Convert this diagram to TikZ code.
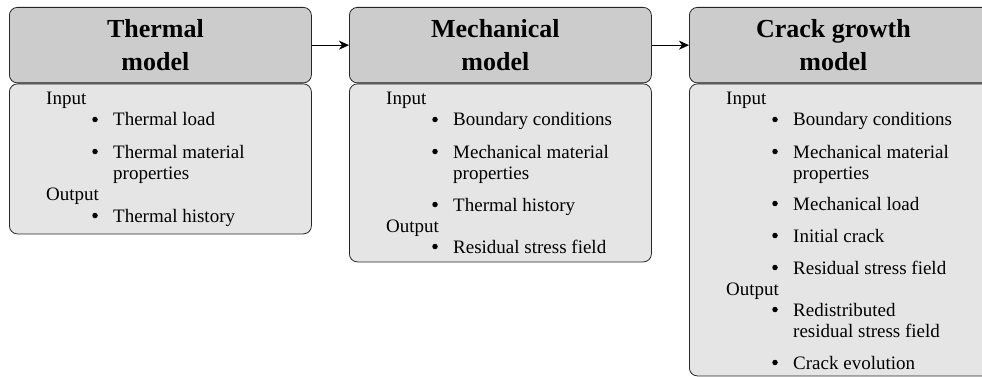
\documentclass[tikz,border=0pt]{standalone}
\usepackage{fontspec}
\setmainfont{Liberation Serif}
\usetikzlibrary{arrows.meta}
\newcommand\plaintxt[4]{\node[lbl] (#1) at (#2+37,#3) {#4};}
\newcommand\bulitem[4]{\node[bul] (#1b) at (#2+86,#3-6.5) {}; \node[lbl] (#1) at (#2+104,#3) {#4};}
\newcommand\contline[4]{\node[lbl] (#1) at (#2+104,#3) {#4};}
\begin{document}
\begin{tikzpicture}[x=1pt,y=-1pt,
  head/.style={draw=black!85, fill=black!20, rounded corners=8pt, line width=0.8pt,
    minimum width=302pt, minimum height=75.5pt, inner sep=0pt, anchor=north west},
  bodybox/.style={draw=black!85, fill=black!10, rounded corners=8pt, line width=0.8pt,
    minimum width=302pt, inner sep=0pt, anchor=north west},
  ttl/.style={font=\fontsize{26}{33}\selectfont\bfseries, align=center, inner sep=0pt},
  lbl/.style={font=\fontsize{19}{21}\selectfont, anchor=base west, inner sep=0pt},
  bul/.style={circle, fill=black, inner sep=0pt, minimum size=5.5pt},
  conn/.style={-{Stealth[length=10pt,width=9pt,inset=3pt]}, line width=1.2pt}]
\clip (0,0) rectangle (982,377);
% boxes
\node[head] (h1) at (9,7) {};
\node[bodybox, minimum height=150pt] (b1) at (9,83.5) {};
\node[head] (h2) at (349,7) {};
\node[bodybox, minimum height=178pt] (b2) at (349,83.5) {};
\node[head] (h3) at (689,7) {};
\node[bodybox, minimum height=292pt] (b3) at (689,83.5) {};
% titles
\node[ttl] (t1) at ([xshift=-5pt]h1.center) {Thermal\\model};
\node[ttl] (t2) at ([xshift=-5pt]h2.center) {Mechanical\\model};
\node[ttl] (t3) at ([xshift=-7pt]h3.center) {Crack growth\\model};
% arrows
\draw[conn] (h1.east) -- (h2.west);
\draw[conn] (h2.east) -- (h3.west);
% box 1
\plaintxt{a0}{9}{105}{Input}
\bulitem{a1}{9}{126}{Thermal load}
\bulitem{a2}{9}{158}{Thermal material}
\contline{a2c}{9}{179}{properties}
\plaintxt{a3}{9}{200}{Output}
\bulitem{a4}{9}{222}{Thermal history}
% box 2
\plaintxt{m0}{349}{105}{Input}
\bulitem{m1}{349}{126}{Boundary conditions}
\bulitem{m2}{349}{158}{Mechanical material}
\contline{m2c}{349}{179}{properties}
\bulitem{m3}{349}{211}{Thermal history}
\plaintxt{m4}{349}{232}{Output}
\bulitem{m5}{349}{253}{Residual stress field}
% box 3
\plaintxt{c0}{689}{105}{Input}
\bulitem{c1}{689}{126}{Boundary conditions}
\bulitem{c2}{689}{158}{Mechanical material}
\contline{c2c}{689}{179}{properties}
\bulitem{c3}{689}{210}{Mechanical load}
\bulitem{c4}{689}{242}{Initial crack}
\bulitem{c5}{689}{274}{Residual stress field}
\plaintxt{c6}{689}{295}{Output}
\bulitem{c7}{689}{316}{Redistributed}
\contline{c7c}{689}{337}{residual stress field}
\bulitem{c8}{689}{369}{Crack evolution}
\end{tikzpicture}
\end{document}
